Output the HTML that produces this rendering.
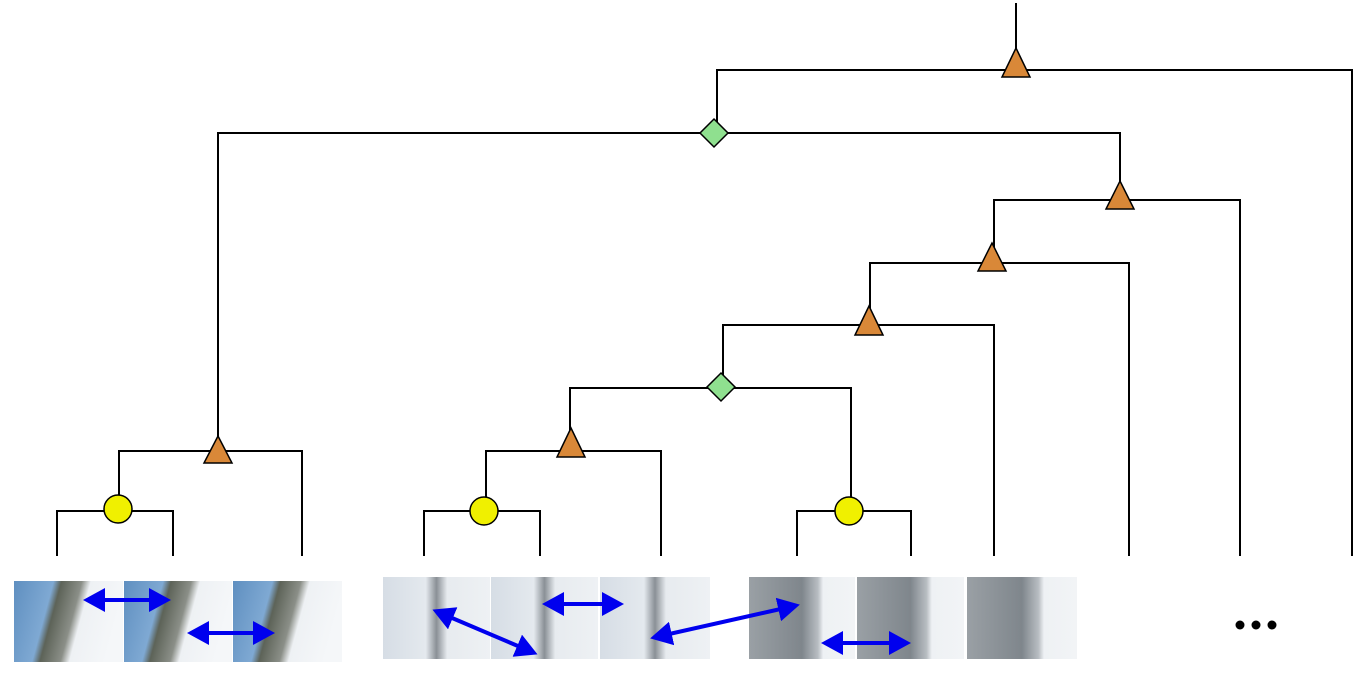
<!DOCTYPE html>
<html><head><style>body{margin:0;background:#fff}svg{display:block}</style></head><body>
<svg width="1368" height="686" xmlns="http://www.w3.org/2000/svg">
<defs>
<linearGradient id="g1" x1="0" x2="1" y1="0" y2="0.2"><stop offset="0" stop-color="#5f8fc0"/><stop offset="0.35" stop-color="#7fa9d3"/><stop offset="0.42" stop-color="#5d6358"/><stop offset="0.6" stop-color="#8b8f88"/><stop offset="0.68" stop-color="#eef1f4"/><stop offset="1" stop-color="#f5f7f9"/></linearGradient>
<linearGradient id="g2" x1="0" x2="1"><stop offset="0" stop-color="#d6dde5"/><stop offset="0.4" stop-color="#e4e9ee"/><stop offset="0.5" stop-color="#8a9096"/><stop offset="0.6" stop-color="#e7ebef"/><stop offset="1" stop-color="#eef1f4"/></linearGradient>
<linearGradient id="g3" x1="0" x2="1"><stop offset="0" stop-color="#9aa0a5"/><stop offset="0.5" stop-color="#7f868c"/><stop offset="0.65" stop-color="#b8bdc2"/><stop offset="0.7" stop-color="#eef1f4"/><stop offset="1" stop-color="#f2f4f6"/></linearGradient>
<marker id="ah" markerWidth="5.5" markerHeight="6" refX="4" refY="3" orient="auto-start-reverse" markerUnits="strokeWidth"><path d="M0,0 L5.5,3 L0,6 z" fill="#0000ee"/></marker>
</defs>
<g>
<rect x="14" y="581" width="109" height="81" fill="url(#g1)"/>
<rect x="124" y="581" width="108" height="81" fill="url(#g1)"/>
<rect x="233" y="581" width="109" height="81" fill="url(#g1)"/>
<rect x="383" y="577" width="107" height="82" fill="url(#g2)"/>
<rect x="491" y="577" width="107" height="82" fill="url(#g2)"/>
<rect x="600" y="577" width="110" height="82" fill="url(#g2)"/>
<rect x="749" y="577" width="106" height="82" fill="url(#g3)"/>
<rect x="857" y="577" width="107" height="82" fill="url(#g3)"/>
<rect x="967" y="577" width="110" height="82" fill="url(#g3)"/>
</g>
<g stroke="#000" stroke-width="2" fill="none">
<path d="M1016,3V70M717,133V70H1352V556"/>
<path d="M218,451V133H1120V200"/>
<path d="M994,263V200H1240V556"/>
<path d="M870,325V263H1129V556"/>
<path d="M723,388V325H994V556"/>
<path d="M570,451V388H851V511"/>
<path d="M486,511V451H661V556"/>
<path d="M424,556V511H540V556"/>
<path d="M797,556V511H911V556"/>
<path d="M119,511V451H302V556"/>
<path d="M57,556V511H173V556"/>
</g>
<g fill="#d98838" stroke="#000" stroke-width="1.5">
<path d="M1016,48L1030,77H1002Z"/>
<path d="M1120,181L1134,209H1106Z"/>
<path d="M992,243L1006,271H978Z"/>
<path d="M869,306L883,335H855Z"/>
<path d="M571,428L585,457H557Z"/>
<path d="M218,436L232,463H204Z"/>
</g>
<g fill="#8fe08f" stroke="#000" stroke-width="1.5">
<path d="M714,119L728,133L714,147L700,133Z"/>
<path d="M721,373L735,387L721,401L707,387Z"/>
</g>
<g fill="#f0f000" stroke="#000" stroke-width="1.5">
<circle cx="118" cy="509" r="14"/><circle cx="484" cy="511" r="14"/><circle cx="849" cy="511" r="14"/>
</g>
<g stroke="#0000ee" stroke-width="4" marker-start="url(#ah)" marker-end="url(#ah)">
<line x1="89" y1="600" x2="165" y2="600"/>
<line x1="193" y1="633" x2="269" y2="633"/>
<line x1="438" y1="612" x2="532" y2="652"/>
<line x1="548" y1="604" x2="618" y2="604"/>
<line x1="656" y1="637" x2="794" y2="606"/>
<line x1="827" y1="643" x2="905" y2="643"/>
</g>
<g fill="#000"><circle cx="1240" cy="625" r="4.5"/><circle cx="1256" cy="625" r="4.5"/><circle cx="1272" cy="625" r="4.5"/></g>
</svg>
</body></html>
